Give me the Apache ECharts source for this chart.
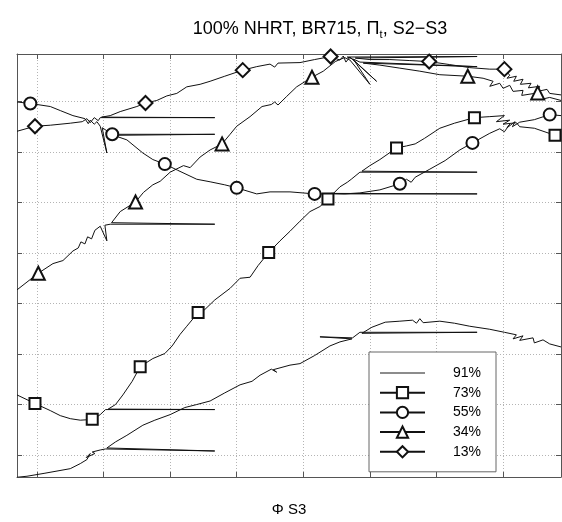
<!DOCTYPE html>
<html>
<head>
<meta charset="utf-8">
<script src="https://cdn.jsdelivr.net/npm/echarts@6/dist/echarts.min.js"></script>
<style>
  html, body { margin: 0; padding: 0; background: #fff; }
  #chart { width: 562px; height: 522px; }
</style>
</head>
<body>
<div id="chart"></div>
<script>
// grid ticks (no labels are shown in the original crop)
const xTicks = [0, 1, 2, 3, 4, 5, 6, 7];
const yTicks = [0, 1, 2, 3, 4, 5, 6, 7];

const seriesNames = ['91%', '73%', '55%', '34%', '13%'];

// traces, [x, y] in grid units
const c91 = [[-0.30,-0.44],[-0.15,-0.42],[0.12,-0.36],[0.50,-0.27],[0.65,-0.17],[0.75,-0.09],[0.80,0.03],[0.74,-0.05],
  [0.87,0.03],[0.83,0.06],[0.95,0.10],[1.03,0.12],[2.67,0.08],[1.05,0.14],[1.18,0.26],[1.35,0.39],[1.59,0.59],
  [1.77,0.69],[2.00,0.80],[2.22,0.94],[2.40,1.00],[2.60,1.07],[2.82,1.23],[3.05,1.39],[3.23,1.46],[3.35,1.58],
  [3.52,1.70],[3.60,1.64],[3.55,1.69],[3.80,1.78],[3.95,1.81],[4.17,1.97],[4.40,2.16],[4.55,2.24],[4.73,2.30],
  [4.25,2.34],[4.74,2.32],[4.85,2.43],[6.61,2.43],[4.88,2.41],[5.03,2.53],[5.23,2.63],[5.45,2.65],[5.64,2.67],
  [5.70,2.61],[5.75,2.70],[5.80,2.62],[6.05,2.65],[6.27,2.61],[6.50,2.55],[6.80,2.49],[7.02,2.43],[7.20,2.38],
  [7.15,2.30],[7.30,2.36],[7.25,2.27],[7.45,2.32],[7.47,2.22],[7.60,2.28],[7.70,2.20],[7.87,2.14]];
const m91 = [];

const c73 = [[-0.30,1.19],[-0.03,1.02],[0.20,0.88],[0.35,0.78],[0.50,0.72],[0.65,0.69],[0.78,0.70],[0.83,0.71],
  [0.88,0.76],[0.86,0.72],[0.95,0.80],[1.03,0.90],[2.67,0.90],[1.07,0.91],[1.18,1.00],[1.29,1.19],[1.43,1.46],
  [1.55,1.75],[1.74,1.91],[1.92,2.01],[2.03,2.16],[2.15,2.39],[2.25,2.55],[2.42,2.82],[2.52,2.88],[2.67,3.07],
  [2.90,3.30],[3.05,3.50],[3.20,3.52],[3.32,3.75],[3.48,4.01],[3.65,4.24],[3.80,4.43],[3.95,4.63],[4.10,4.82],
  [4.25,4.92],[4.37,5.07],[4.55,5.31],[4.66,5.40],[4.72,5.46],[4.85,5.60],[6.61,5.60],[4.88,5.62],[5.00,5.73],
  [5.15,5.85],[5.40,6.08],[5.55,6.12],[5.68,6.16],[5.82,6.27],[6.05,6.47],[6.27,6.57],[6.57,6.68],[6.80,6.70],
  [7.02,6.72],[6.90,6.60],[7.10,6.63],[7.00,6.55],[7.20,6.58],[7.25,6.50],[7.47,6.47],[7.78,6.33],[7.87,6.31]];
const m73 = [1, 7, 17, 23, 30, 36, 45, 51, 60];

const c55 = [[-0.30,6.99],[-0.10,6.96],[0.20,6.90],[0.35,6.82],[0.54,6.72],[0.72,6.66],[0.77,6.56],[0.80,6.63],
  [0.86,6.55],[0.90,6.60],[0.95,6.51],[1.05,5.98],[0.98,6.48],[1.13,6.35],[2.67,6.35],[1.15,6.33],[1.35,6.24],
  [1.59,5.98],[1.74,5.85],[1.92,5.76],[2.11,5.64],[2.40,5.46],[2.60,5.41],[2.82,5.35],[3.00,5.29],[3.30,5.17],
  [3.50,5.21],[3.80,5.21],[4.17,5.17],[4.40,5.17],[6.61,5.17],[4.42,5.18],[4.62,5.17],[4.85,5.19],[5.15,5.25],
  [5.45,5.37],[5.55,5.46],[5.62,5.40],[5.68,5.50],[5.90,5.66],[6.13,5.83],[6.35,6.04],[6.54,6.18],[6.80,6.37],
  [6.95,6.46],[7.02,6.40],[7.10,6.55],[7.06,6.48],[7.18,6.60],[7.14,6.50],[7.25,6.59],[7.47,6.64],[7.70,6.74],
  [7.87,6.72]];
const m55 = [1, 13, 19, 24, 28, 35, 42, 52];

const c34 = [[-0.30,3.27],[0.02,3.60],[0.24,3.79],[0.39,3.85],[0.54,4.04],[0.62,4.10],[0.66,4.22],[0.72,4.18],
  [0.76,4.32],[0.82,4.28],[0.87,4.45],[0.95,4.53],[1.05,4.24],[1.02,4.55],[1.10,4.57],[2.67,4.57],[1.12,4.60],
  [1.25,4.82],[1.48,5.01],[1.60,5.20],[1.74,5.35],[1.85,5.42],[2.00,5.60],[2.20,5.73],[2.30,5.69],[2.45,5.90],
  [2.60,6.04],[2.78,6.16],[2.90,6.35],[3.00,6.51],[3.20,6.70],[3.38,6.90],[3.52,6.94],[3.57,6.99],[3.62,6.93],
  [3.75,7.10],[3.90,7.29],[4.13,7.48],[4.30,7.60],[4.48,7.79],[4.62,7.87],[4.70,7.82],[5.00,7.34],[4.75,7.84],
  [4.85,7.78],[6.61,7.69],[4.90,7.76],[5.15,7.72],[5.45,7.66],[5.75,7.60],[6.05,7.53],[6.47,7.50],[6.70,7.46],
  [6.85,7.40],[6.80,7.30],[6.95,7.36],[7.00,7.26],[7.10,7.32],[7.15,7.20],[7.30,7.22],[7.28,7.12],[7.52,7.17],
  [7.60,7.05],[7.70,7.08],[7.87,7.02]];
const m34 = [1, 18, 27, 37, 51, 61];

const c13 = [[-0.30,6.41],[-0.03,6.51],[0.20,6.53],[0.50,6.57],[0.68,6.60],[0.75,6.66],[0.80,6.58],[0.86,6.68],
  [0.92,6.62],[0.95,6.68],[2.67,6.68],[0.97,6.69],[1.10,6.72],[1.25,6.80],[1.50,6.90],[1.63,6.97],[1.80,7.02],
  [1.95,7.11],[2.10,7.16],[2.25,7.29],[2.45,7.34],[2.60,7.40],[2.82,7.50],[3.09,7.62],[3.30,7.69],[3.50,7.74],
  [3.57,7.68],[3.62,7.76],[3.95,7.77],[4.17,7.83],[4.41,7.89],[4.55,7.82],[4.60,7.90],[4.64,7.78],[4.70,7.88],
  [5.10,7.40],[4.74,7.84],[4.66,7.88],[6.61,7.89],[4.78,7.86],[5.00,7.83],[5.30,7.83],[5.60,7.81],[5.89,7.79],
  [6.20,7.73],[6.50,7.67],[6.80,7.64],[7.02,7.64],[7.10,7.52],[7.06,7.46],[7.20,7.50],[7.16,7.40],[7.30,7.44],
  [7.26,7.34],[7.42,7.36],[7.38,7.27],[7.55,7.30],[7.52,7.20],[7.66,7.24],[7.70,7.16],[7.87,7.13]];
const m13 = [1, 15, 23, 30, 43, 47];

const chart = echarts.init(document.getElementById('chart'));
const font = 'Liberation Sans, Arial, sans-serif';
const ink = '#111';
const boxColor = '#555';

// only the listed samples carry a marker, like MATLAB's sparse markers
function withMarks(points, marks) {
  return points.map((p, i) => marks.indexOf(i) >= 0 ? p : { value: p, symbol: 'none' });
}

function trace(name, points, marks, symbol, size) {
  return {
    type: 'line',
    name: name,
    data: withMarks(points, marks),
    symbol: symbol,
    symbolSize: size,
    showSymbol: true,
    lineStyle: { color: ink, width: 1 },
    itemStyle: { color: ink, borderWidth: 1 },
    emphasis: { disabled: true },
    animation: false
  };
}

function xAxisBox(pos, grid) {
  return {
    type: 'value', position: pos, min: -0.30, max: 7.87,
    axisLine: { show: true, onZero: false, lineStyle: { color: boxColor, width: 1 } },
    axisTick: { show: true, inside: true, length: 5, customValues: xTicks, lineStyle: { color: boxColor } },
    axisLabel: { show: false },
    splitLine: { show: grid, lineStyle: { color: '#b4b4b4', type: [1, 2], width: 1 } }
  };
}
function yAxisBox(pos, grid) {
  return {
    type: 'value', position: pos, min: -0.435, max: 7.94,
    axisLine: { show: true, onZero: false, lineStyle: { color: boxColor, width: 1 } },
    axisTick: { show: true, inside: true, length: 5, customValues: yTicks, lineStyle: { color: boxColor } },
    axisLabel: { show: false },
    splitLine: { show: grid, lineStyle: { color: '#b4b4b4', type: [1, 2], width: 1 } }
  };
}

const xBottom = xAxisBox('bottom', true);
xBottom.name = 'Φ S3';
xBottom.nameLocation = 'middle';
xBottom.nameGap = 25;
xBottom.nameTextStyle = { fontFamily: font, fontSize: 15, color: '#000' };

const option = {
  backgroundColor: '#fff',
  animation: false,
  title: {
    text: '100% NHRT, BR715, Π{sub|t}, S2−S3',
    left: 315,
    top: 14,
    textAlign: 'center',
    textStyle: {
      fontFamily: font, fontSize: 18, fontWeight: 'normal', color: '#000',
      rich: { sub: { fontFamily: font, fontSize: 11, color: '#000', padding: [10, 0, 0, 0] } }
    }
  },
  grid: { left: 17, right: 1, top: 54, bottom: 36, containLabel: false },
  xAxis: [xBottom, xAxisBox('top', false)],
  yAxis: [yAxisBox('left', true), yAxisBox('right', false)],
  legend: {
    data: [
      { name: seriesNames[0], itemStyle: { opacity: 0 }, lineStyle: { color: '#8c8c8c', width: 2 } },
      seriesNames[1], seriesNames[2], seriesNames[3], seriesNames[4]
    ],
    orient: 'vertical',
    left: 369,
    top: 352,
    padding: [14, 15, 13, 10],
    itemWidth: 45,
    itemHeight: 14,
    itemGap: 5.7,
    itemStyle: { borderWidth: 1 },
    backgroundColor: '#fff',
    borderColor: '#666',
    borderWidth: 1,
    selectedMode: false,
    formatter: '{r|{name}}',
    textStyle: {
      fontFamily: font, fontSize: 14, color: '#000',
      rich: { r: { fontFamily: font, fontSize: 14, lineHeight: 14, width: 51, align: 'right', color: '#000' } }
    }
  },
  series: [
    trace(seriesNames[0], c91, m91, 'none', 0),
    trace(seriesNames[1], c73, m73, 'emptyRect', 11),
    trace(seriesNames[2], c55, m55, 'emptyCircle', 12),
    trace(seriesNames[3], c34, m34, 'emptyTriangle', 13),
    trace(seriesNames[4], c13, m13, 'emptyDiamond', 14)
  ]
};

chart.setOption(option);
</script>
</body>
</html>
